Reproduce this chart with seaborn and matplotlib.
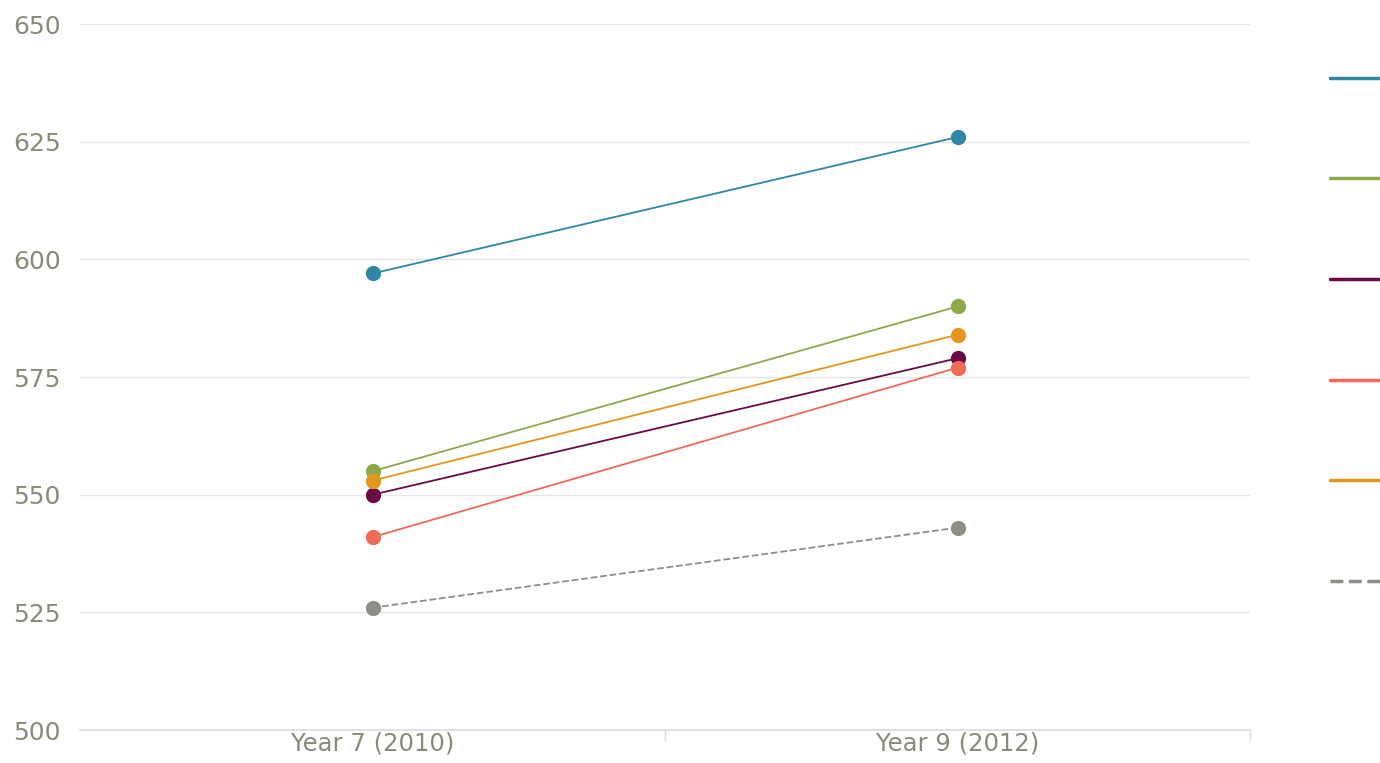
import matplotlib
matplotlib.use("Agg")
import matplotlib.pyplot as plt
import seaborn as sns
import pandas as pd
from matplotlib.lines import Line2D

categories = ["Year 7 (2010)", "Year 9 (2012)"]
series_names = ["Series A", "Series B", "Series C", "Series D", "Series E", "Series F"]
values_a = [597, 626]
values_b = [555, 590]
values_c = [550, 579]
values_d = [541, 577]
values_e = [553, 584]
values_f = [526, 543]
y_ticks = [500, 525, 550, 575, 600, 625, 650]

colors = ["#2f87a5", "#8fa84a", "#6a0a45", "#ef6a57", "#e5961c", "#8e8e86"]
styles = ["-", "-", "-", "-", "-", "--"]

all_values = [values_a, values_b, values_c, values_d, values_e, values_f]
rows = []
for name, vals in zip(series_names, all_values):
    for c, v in zip(categories, vals):
        rows.append({"series": name, "year": c, "score": v})
df = pd.DataFrame(rows)

sns.set_theme(style="white")
plt.rcParams["font.family"] = ["DejaVu Sans"]

fig = plt.figure(figsize=(13.8, 7.63), dpi=100)
ax = fig.add_axes([0.058, 0.0432, 0.848, 0.9253])

for name, col, ls in zip(series_names, colors, styles):
    sub = df[df["series"] == name]
    sns.lineplot(data=sub, x="year", y="score", color=col, linestyle=ls,
                 linewidth=1.3, marker="o", markersize=11, markeredgewidth=0,
                 ax=ax, legend=False)

ax.set_xlim(-0.5, 1.5)
ax.set_ylim(500, 650)
ax.set_yticks(y_ticks)
ax.set_xlabel("")
ax.set_ylabel("")
ax.yaxis.grid(True, color="#e6e6e6", linewidth=1)
ax.xaxis.grid(False)
for s in ["top", "right", "left"]:
    ax.spines[s].set_visible(False)
ax.spines["bottom"].set_color("#dcdcdc")
ax.set_xticks([0, 1])
ax.set_xticks([0.5, 1.5], minor=True)
ax.tick_params(axis="x", which="minor", bottom=True, length=8, color="#dcdcdc", width=1, direction="out")
ax.tick_params(axis="x", which="major", length=0, pad=1, labelsize=17.5, labelcolor="#8a8a7a")
ax.tick_params(axis="y", length=0, pad=14, labelsize=18, labelcolor="#8a8a7a")

handles = [Line2D([], [], color=c, linestyle=ls, linewidth=2.5) for c, ls in zip(colors, styles)]
fig.legend(handles, [" "] * 6, loc="upper left", bbox_to_anchor=(0.9638, 0.909),
           frameon=False, handlelength=4, fontsize=14, labelspacing=4.2,
           borderpad=0, handletextpad=0.5, borderaxespad=0)

fig.savefig("out.png", dpi=100)
